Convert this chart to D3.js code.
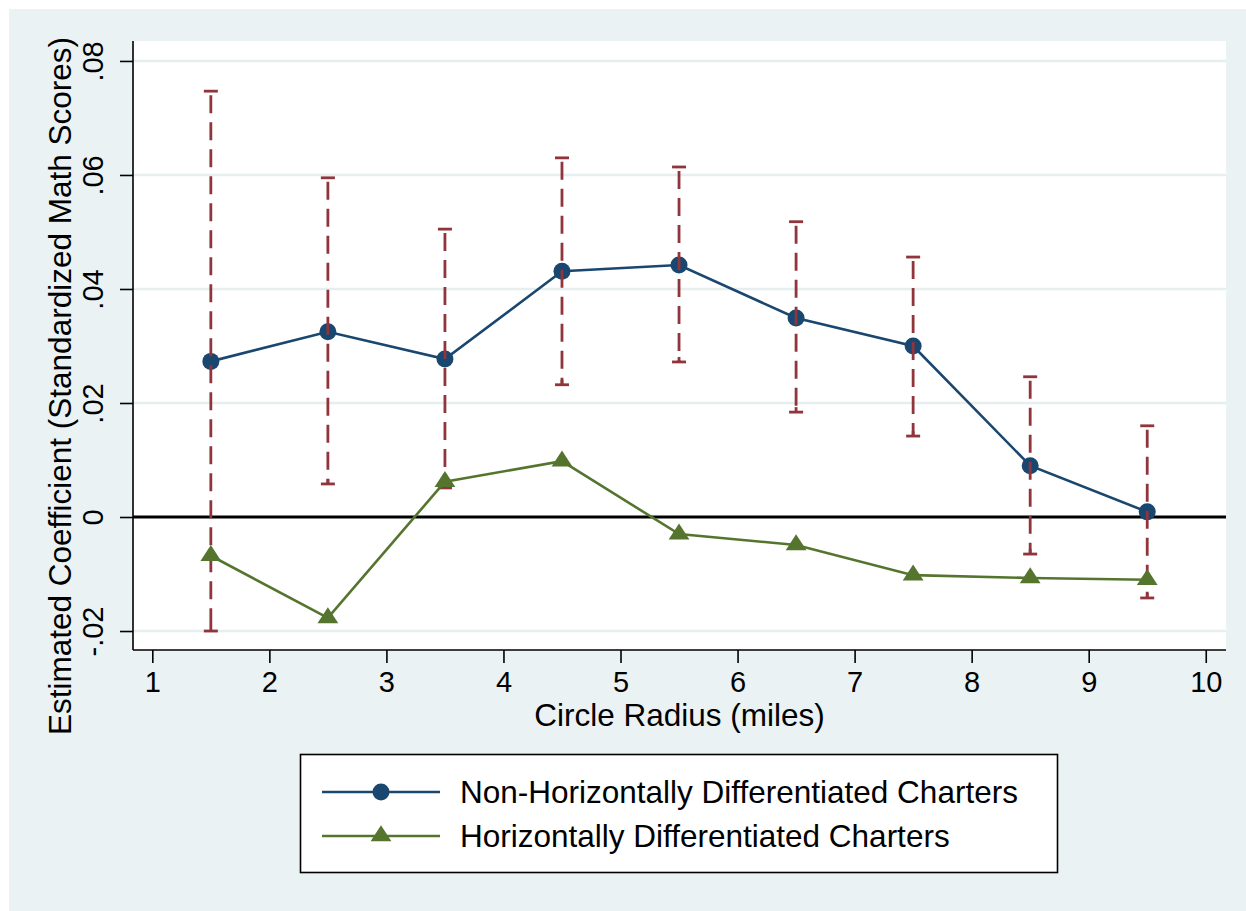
<!DOCTYPE html>
<html>
  <head>
    <meta charset="utf-8">
    <style type="text/css">
      body { margin: 0; background: #fff; }
      svg { display: block; font-family: "Liberation Sans", Arial, sans-serif; }
      .grid line { stroke: #e6eef0; stroke-width: 2.5; }
      .axis path, .axis line { stroke: #000; stroke-width: 1.6; }
      .axis text { fill: #000; font-size: 29px; }
    </style>
  </head>
  <body>
    <script src="https://d3js.org/d3.v7.min.js"></script>
    <script>
      // values
      var radius = [1.5, 2.5, 3.5, 4.5, 5.5, 6.5, 7.5, 8.5, 9.5];
      var nonHorizontal = [0.0273, 0.0325, 0.0277, 0.0431, 0.0442, 0.0349, 0.0300, 0.0090, 0.0009];
      var horizontal = [-0.0068, -0.0177, 0.0062, 0.0098, -0.0030, -0.0049, -0.0102, -0.0107, -0.0110];
      var ciLow = [-0.0200, 0.0058, 0.0051, 0.0232, 0.0272, 0.0184, 0.0142, -0.0065, -0.0142];
      var ciHigh = [0.0747, 0.0595, 0.0505, 0.0630, 0.0614, 0.0518, 0.0456, 0.0246, 0.0160];
      var xTicks = [1, 2, 3, 4, 5, 6, 7, 8, 9, 10];
      var yTicks = [-0.02, 0, 0.02, 0.04, 0.06, 0.08];
      var yTickLabels = ["-.02", "0", ".02", ".04", ".06", ".08"];
      var seriesNames = ["Non-Horizontally Differentiated Charters", "Horizontally Differentiated Charters"];

      var width = 1246, height = 911;
      var plotL = 133, plotR = 1226, plotT = 41, plotB = 650;
      var blue = "#1a476f", maroon = "#90353b", green = "#55752f";

      var svg = d3.select("body").append("svg")
          .attr("width", width)
          .attr("height", height);

      svg.append("rect")
          .attr("x", 9).attr("y", 9)
          .attr("width", width - 9).attr("height", height - 9)
          .attr("fill", "#eaf2f3");

      svg.append("rect")
          .attr("x", plotL).attr("y", plotT)
          .attr("width", plotR - plotL).attr("height", plotB - plotT)
          .attr("fill", "#fff");

      var x = d3.scaleLinear().domain([0.835, 10.173]).range([plotL, plotR]);
      var y = d3.scaleLinear().domain([-0.02333, 0.0835]).range([plotB, plotT]);

      // grid lines
      svg.append("g").attr("class", "grid")
        .selectAll("line")
        .data(yTicks.filter(function(d) { return d !== 0; }))
        .enter().append("line")
          .attr("x1", plotL).attr("x2", plotR)
          .attr("y1", function(d) { return y(d); })
          .attr("y2", function(d) { return y(d); });

      // zero reference line
      svg.append("line")
          .attr("x1", plotL).attr("x2", plotR)
          .attr("y1", y(0)).attr("y2", y(0))
          .attr("stroke", "#000").attr("stroke-width", 3.2);

      // axes
      var xAxis = svg.append("g").attr("class", "axis")
          .attr("transform", "translate(0," + plotB + ")")
          .call(d3.axisBottom(x).tickValues(xTicks).tickSize(13).tickSizeOuter(0));
      xAxis.select(".domain").attr("d", "M" + plotL + ",0H" + plotR);
      xAxis.selectAll("text").attr("dy", null).attr("y", 42);

      var yAxis = svg.append("g").attr("class", "axis")
          .attr("transform", "translate(" + plotL + ",0)")
          .call(d3.axisLeft(y).tickValues(yTicks).tickSize(13).tickSizeOuter(0)
            .tickFormat(function(d, i) { return yTickLabels[i]; }));
      yAxis.select(".domain").attr("d", "M0," + plotT + "V" + plotB);
      yAxis.selectAll("text")
          .attr("x", null).attr("dy", null)
          .attr("text-anchor", "middle")
          .attr("transform", "translate(-30,0) rotate(-90)");

      // axis titles
      svg.append("text")
          .attr("x", (plotL + plotR) / 2).attr("y", 726)
          .attr("text-anchor", "middle")
          .attr("font-size", 31.5)
          .text("Circle Radius (miles)");

      svg.append("text")
          .attr("transform", "translate(71,386) rotate(-90)")
          .attr("text-anchor", "middle")
          .attr("font-size", 31.5)
          .text("Estimated Coefficient (Standardized Math Scores)");

      var triangle = "M0,-10.7L10.4,5.3L-10.4,5.3Z";

      // non-horizontally differentiated series
      var line = d3.line()
          .x(function(d) { return x(d[0]); })
          .y(function(d) { return y(d[1]); });

      var blueData = d3.zip(radius, nonHorizontal);
      svg.append("path").datum(blueData)
          .attr("d", line)
          .attr("fill", "none").attr("stroke", blue).attr("stroke-width", 2.6);
      svg.append("g").selectAll("circle")
          .data(blueData)
        .enter().append("circle")
          .attr("cx", function(d) { return x(d[0]); })
          .attr("cy", function(d) { return y(d[1]); })
          .attr("r", 8.5)
          .attr("fill", blue);

      // confidence intervals
      var ci = d3.zip(radius, ciLow, ciHigh);
      var ciG = svg.append("g").attr("stroke", maroon).attr("stroke-width", 2.8);
      ciG.selectAll(".bar")
          .data(ci)
        .enter().append("line")
          .attr("x1", function(d) { return x(d[0]); })
          .attr("x2", function(d) { return x(d[0]); })
          .attr("y1", function(d) { return y(d[2]) + 4; })
          .attr("y2", function(d) { return y(d[1]); })
          .attr("stroke-dasharray", "18,9");
      ciG.selectAll(".capHi")
          .data(ci)
        .enter().append("line")
          .attr("x1", function(d) { return x(d[0]) - 7; })
          .attr("x2", function(d) { return x(d[0]) + 7; })
          .attr("y1", function(d) { return y(d[2]); })
          .attr("y2", function(d) { return y(d[2]); });
      ciG.selectAll(".capLo")
          .data(ci)
        .enter().append("line")
          .attr("x1", function(d) { return x(d[0]) - 7; })
          .attr("x2", function(d) { return x(d[0]) + 7; })
          .attr("y1", function(d) { return y(d[1]); })
          .attr("y2", function(d) { return y(d[1]); });
      ciG.selectAll(".stem")
          .data(ci)
        .enter().append("line")
          .attr("x1", function(d) { return x(d[0]); })
          .attr("x2", function(d) { return x(d[0]); })
          .attr("y1", function(d) { return y(d[1]); })
          .attr("y2", function(d) { return y(d[1]) - 5; });

      // horizontally differentiated series
      var greenData = d3.zip(radius, horizontal);
      svg.append("path").datum(greenData)
          .attr("d", line)
          .attr("fill", "none").attr("stroke", green).attr("stroke-width", 2.6);
      svg.append("g").selectAll("path")
          .data(greenData)
        .enter().append("path")
          .attr("d", triangle)
          .attr("transform", function(d) { return "translate(" + x(d[0]) + "," + y(d[1]) + ")"; })
          .attr("fill", green);

      // legend
      var legend = svg.append("g");
      legend.append("rect")
          .attr("x", 300.5).attr("y", 754.5)
          .attr("width", 757).attr("height", 118)
          .attr("fill", "#fff").attr("stroke", "#000").attr("stroke-width", 1.6);

      var rows = legend.selectAll(".row")
          .data(seriesNames)
        .enter().append("g")
          .attr("transform", function(d, i) { return "translate(0," + (792 + i * 44) + ")"; });
      rows.append("line")
          .attr("x1", 322).attr("x2", 440)
          .attr("stroke", function(d, i) { return i === 0 ? blue : green; })
          .attr("stroke-width", 2.6);
      rows.filter(function(d, i) { return i === 0; }).append("circle")
          .attr("cx", 381).attr("r", 8.5).attr("fill", blue);
      rows.filter(function(d, i) { return i === 1; }).append("path")
          .attr("d", triangle)
          .attr("transform", "translate(381,0)")
          .attr("fill", green);
      rows.append("text")
          .attr("x", 460).attr("y", 11)
          .attr("font-size", 31.5)
          .text(function(d) { return d; });
    </script>
  </body>
</html>
